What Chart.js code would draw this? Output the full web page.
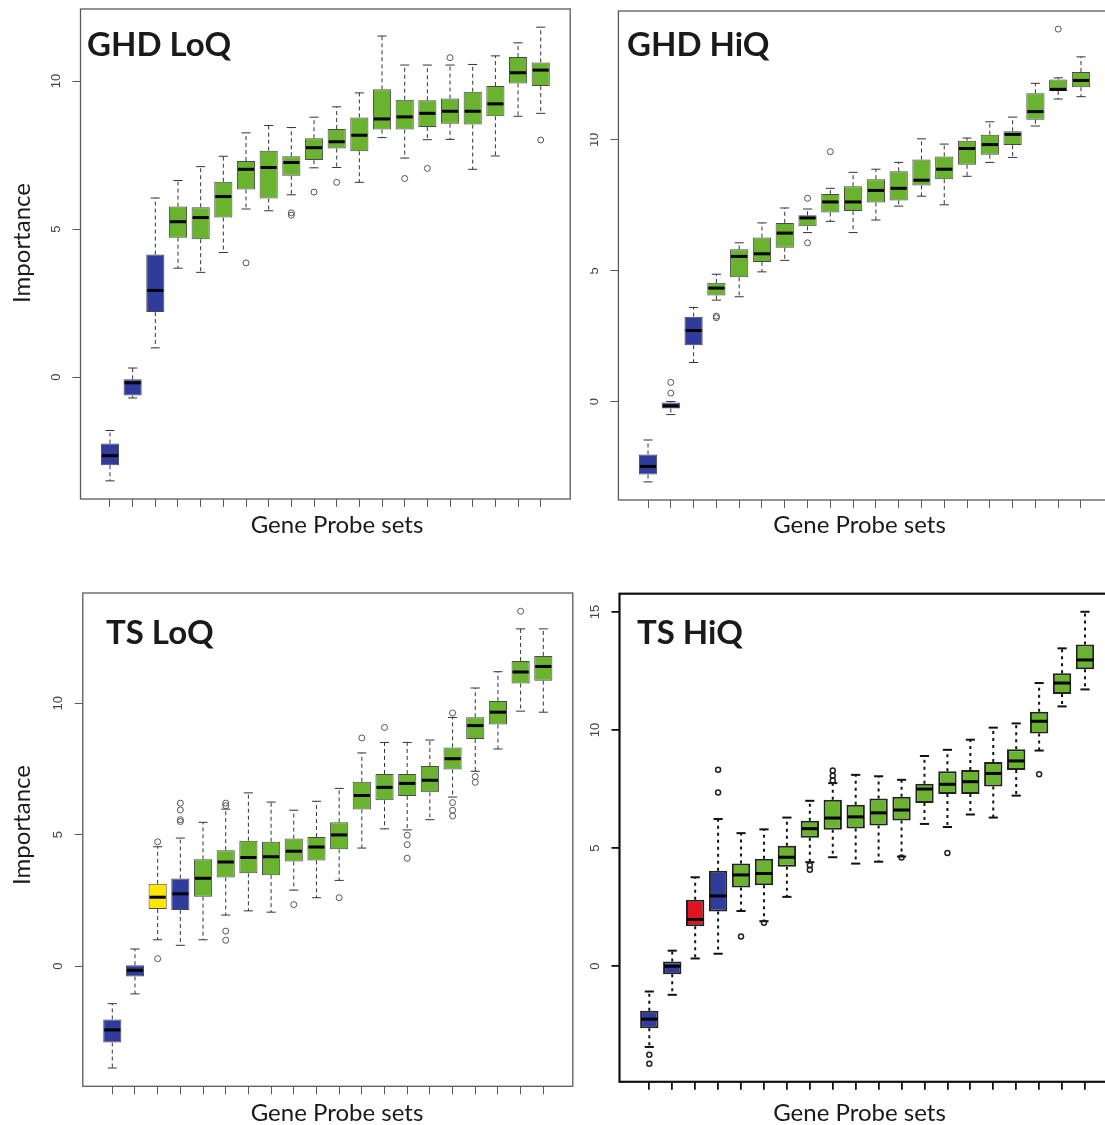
<!DOCTYPE html>
<html>
<head>
<meta charset="utf-8">
<script src="https://cdn.jsdelivr.net/npm/chart.js@4.4.1/dist/chart.umd.min.js"></script>
<style>
  html, body { margin: 0; padding: 0; background: #fff; }
  body { width: 1105px; height: 1125px; overflow: hidden; position: relative; }
  canvas { position: absolute; }
</style>
</head>
<body>
<canvas id="ghd-loq" width="590" height="560" style="left:0px;top:0px"></canvas>
<canvas id="ghd-hiq" width="540" height="560" style="left:590px;top:0px"></canvas>
<canvas id="ts-loq" width="590" height="565" style="left:0px;top:560px"></canvas>
<canvas id="ts-hiq" width="540" height="565" style="left:590px;top:560px"></canvas>
<script>
// Gene probe set positions (20 per panel, no names on the axis)
const probeSets = [1, 2, 3, 4, 5, 6, 7, 8, 9, 10, 11, 12, 13, 14, 15, 16, 17, 18, 19, 20];

// GHD LoQ
const ghdLoqLow    = [-3.50, -0.70, 0.99, 3.68, 3.54, 4.21, 5.68, 5.62, 6.16, 7.07, 7.08, 6.58, 8.09, 7.40, 8.02, 8.03, 7.02, 7.47, 8.81, 8.91];
const ghdLoqQ1     = [-2.97, -0.62, 2.20, 4.71, 4.66, 5.39, 6.34, 6.03, 6.80, 7.33, 7.72, 7.63, 8.36, 8.36, 8.45, 8.56, 8.53, 8.81, 9.92, 9.83];
const ghdLoqMedian = [-2.65, -0.19, 2.93, 5.25, 5.39, 6.10, 7.02, 7.08, 7.25, 7.75, 7.95, 8.17, 8.72, 8.79, 8.91, 8.98, 8.98, 9.23, 10.28, 10.37];
const ghdLoqQ3     = [-2.24, -0.07, 4.14, 5.76, 5.74, 6.60, 7.30, 7.65, 7.46, 8.07, 8.38, 8.77, 9.72, 9.37, 9.35, 9.41, 9.64, 9.83, 10.81, 10.63];
const ghdLoqHigh   = [-1.80, 0.31, 6.05, 6.64, 7.11, 7.46, 8.25, 8.50, 8.43, 8.78, 9.13, 9.60, 11.52, 10.54, 10.54, 10.54, 10.56, 10.85, 11.29, 11.82];
const ghdLoqOutliers = [[7, 3.86], [9, 5.55], [9, 5.47], [10, 6.25], [11, 6.58], [14, 6.71], [15, 7.05], [16, 10.79], [20, 8.01]];
const ghdLoqGroups = ['b', 'b', 'b', 'g', 'g', 'g', 'g', 'g', 'g', 'g', 'g', 'g', 'g', 'g', 'g', 'g', 'g', 'g', 'g', 'g'];

// GHD HiQ
const ghdHiqLow    = [-3.06, -0.49, 1.50, 3.88, 4.01, 4.96, 5.40, 6.46, 6.89, 6.46, 6.94, 7.47, 7.85, 7.52, 8.61, 9.14, 9.33, 10.53, 11.56, 11.65];
const ghdHiqQ1     = [-2.78, -0.26, 2.16, 4.06, 4.75, 5.34, 5.88, 6.70, 7.23, 7.28, 7.61, 7.69, 8.26, 8.50, 9.05, 9.43, 9.80, 10.77, 11.87, 12.01];
const ghdHiqMedian = [-2.47, -0.16, 2.72, 4.34, 5.55, 5.65, 6.44, 7.02, 7.63, 7.63, 8.07, 8.15, 8.46, 8.88, 9.67, 9.82, 10.21, 11.08, 11.93, 12.27];
const ghdHiqQ3     = [-2.01, -0.03, 3.25, 4.54, 5.82, 6.27, 6.83, 7.12, 7.93, 8.23, 8.50, 8.80, 9.25, 9.37, 9.97, 10.20, 10.33, 11.78, 12.31, 12.59];
const ghdHiqHigh   = [-1.46, 0.01, 3.60, 4.87, 6.07, 6.83, 7.40, 7.36, 8.15, 8.76, 8.88, 9.14, 10.04, 9.84, 10.07, 10.69, 10.87, 12.16, 12.37, 13.17];
const ghdHiqOutliers = [[2, 0.74], [2, 0.33], [4, 3.27], [4, 3.21], [8, 7.77], [8, 6.07], [9, 9.55], [19, 14.23]];
const ghdHiqGroups = ['b', 'b', 'b', 'g', 'g', 'g', 'g', 'g', 'g', 'g', 'g', 'g', 'g', 'g', 'g', 'g', 'g', 'g', 'g', 'g'];

// TS LoQ
const tsLoqLow    = [-3.88, -1.06, 1.00, 0.79, 1.00, 1.94, 2.10, 2.05, 2.89, 2.60, 3.26, 4.49, 5.22, 5.18, 5.57, 6.43, 7.41, 8.26, 9.70, 9.66];
const tsLoqQ1     = [-2.91, -0.40, 2.17, 2.13, 2.64, 3.37, 3.53, 3.46, 3.98, 4.02, 4.44, 5.96, 6.31, 6.47, 6.61, 7.48, 8.64, 9.19, 10.75, 10.86];
const tsLoqMedian = [-2.43, -0.16, 2.62, 2.75, 3.34, 3.96, 4.13, 4.16, 4.37, 4.53, 4.99, 6.49, 6.80, 6.95, 7.07, 7.89, 9.15, 9.66, 11.19, 11.40];
const tsLoqQ3     = [-2.03, 0.03, 3.13, 3.33, 4.06, 4.41, 4.77, 4.73, 4.85, 4.91, 5.47, 7.01, 7.31, 7.31, 7.61, 8.32, 9.47, 10.09, 11.61, 11.80];
const tsLoqHigh   = [-1.43, 0.65, 4.54, 4.87, 5.47, 5.97, 6.59, 6.24, 5.93, 6.27, 6.76, 8.11, 8.51, 8.51, 8.60, 9.46, 10.58, 11.20, 12.83, 12.83];
const tsLoqOutliers = [[3, 4.73], [3, 0.28], [4, 6.20], [4, 5.94], [4, 5.57], [4, 5.50], [6, 6.20], [6, 6.10], [6, 1.33], [6, 0.98],
  [9, 2.34], [11, 2.60], [12, 8.68], [13, 9.08], [14, 4.98], [14, 4.62], [14, 4.10], [16, 9.63], [16, 6.22], [16, 5.93], [16, 5.71],
  [17, 7.21], [17, 6.99], [19, 13.50]];
const tsLoqGroups = ['b', 'b', 'y', 'b', 'g', 'g', 'g', 'g', 'g', 'g', 'g', 'g', 'g', 'g', 'g', 'g', 'g', 'g', 'g', 'g'];

// TS HiQ
const tsHiqLow    = [-3.43, -1.22, 0.32, 0.52, 2.33, 1.90, 2.93, 4.40, 4.61, 4.34, 4.42, 4.64, 6.02, 5.89, 6.42, 6.29, 7.22, 9.13, 11.00, 11.72];
const tsHiqQ1     = [-2.64, -0.35, 1.68, 2.31, 3.33, 3.42, 4.21, 5.43, 5.77, 5.83, 5.95, 6.17, 6.91, 7.29, 7.29, 7.61, 8.31, 9.85, 11.53, 12.58];
const tsHiqMedian = [-2.25, -0.01, 1.97, 2.97, 3.86, 3.92, 4.61, 5.82, 6.27, 6.32, 6.49, 6.61, 7.50, 7.70, 7.81, 8.16, 8.69, 10.37, 11.99, 12.97];
const tsHiqQ3     = [-1.90, 0.19, 2.81, 4.04, 4.34, 4.55, 5.10, 6.16, 7.05, 6.83, 7.10, 7.17, 7.72, 8.25, 8.31, 8.64, 9.18, 10.77, 12.40, 13.62];
const tsHiqHigh   = [-1.08, 0.65, 3.76, 6.23, 5.63, 5.79, 6.29, 7.00, 7.75, 8.10, 8.04, 7.89, 8.90, 9.16, 9.59, 10.10, 10.28, 11.99, 13.46, 15.01];
const tsHiqOutliers = [[1, -3.76], [1, -4.14], [4, 8.32], [4, 7.35], [5, 1.25], [6, 1.83], [8, 4.27], [8, 4.08], [9, 8.28], [9, 8.06],
  [9, 7.86], [12, 4.60], [14, 4.79], [18, 8.13]];
const tsHiqGroups = ['b', 'b', 'r', 'b', 'g', 'g', 'g', 'g', 'g', 'g', 'g', 'g', 'g', 'g', 'g', 'g', 'g', 'g', 'g', 'g'];

// Tick labels on the importance axis
const ghdLoqTicks = [0, 5, 10];
const ghdHiqTicks = [0, 5, 10];
const tsLoqTicks = [0, 5, 10];
const tsHiqTicks = [0, 5, 10, 15];

const groupColors = { b: '#2f3c9c', g: '#69b32f', y: '#ffe600', r: '#e3141e' };

// Styles: thin grey (R default) vs the heavier black panel
const thinStyle = { frame: '#5a5a5a', frameWidth: 1.3, box: '#4a4a4a', boxWidth: 1, whisker: '#333', whiskerWidth: 1, dash: [4, 3],
  tick: '#5a5a5a', tickWidth: 1, outlier: '#555', outlierWidth: 1, outlierRadius: 3 };
const heavyStyle = { frame: '#111', frameWidth: 2.2, box: '#222', boxWidth: 2, whisker: '#111', whiskerWidth: 2, dash: [3, 4],
  tick: '#111', tickWidth: 1.8, outlier: '#222', outlierWidth: 1.5, outlierRadius: 2.5 };

const panels = [
  { id: 'ghd-loq', title: 'GHD LoQ', low: ghdLoqLow, q1: ghdLoqQ1, median: ghdLoqMedian, q3: ghdLoqQ3, high: ghdLoqHigh,
    outliers: ghdLoqOutliers, groups: ghdLoqGroups, yTicks: ghdLoqTicks, style: thinStyle,
    area: { left: 80.5, top: 9, right: 19.8, bottom: 61 }, titleAt: [87, 56], xLabelAt: [337, 525], yLabelAt: [22.5, 243] },
  { id: 'ghd-hiq', title: 'GHD HiQ', low: ghdHiqLow, q1: ghdHiqQ1, median: ghdHiqMedian, q3: ghdHiqQ3, high: ghdHiqHigh,
    outliers: ghdHiqOutliers, groups: ghdHiqGroups, yTicks: ghdHiqTicks, style: thinStyle,
    area: { left: 28.4, top: 11, right: 19.4, bottom: 60 }, titleAt: [37, 56], xLabelAt: [269.5, 525], yLabelAt: null },
  { id: 'ts-loq', title: 'TS LoQ', low: tsLoqLow, q1: tsLoqQ1, median: tsLoqMedian, q3: tsLoqQ3, high: tsLoqHigh,
    outliers: tsLoqOutliers, groups: tsLoqGroups, yTicks: tsLoqTicks, style: thinStyle,
    area: { left: 82.8, top: 33, right: 17.2, bottom: 38.7 }, titleAt: [106, 84], xLabelAt: [337, 553], yLabelAt: [22.5, 265] },
  { id: 'ts-hiq', title: 'TS HiQ', low: tsHiqLow, q1: tsHiqQ1, median: tsHiqMedian, q3: tsHiqQ3, high: tsHiqHigh,
    outliers: tsHiqOutliers, groups: tsHiqGroups, yTicks: tsHiqTicks, style: heavyStyle,
    area: { left: 29.5, top: 33.7, right: 15.2, bottom: 43.2 }, titleAt: [47, 84], xLabelAt: [269.5, 553], yLabelAt: null }
];

// Whiskers, staples, medians, frame and panel texts
function makeBoxPlugin(p) {
  const s = p.style;
  const line = (ctx, x1, y1, x2, y2) => { ctx.beginPath(); ctx.moveTo(x1, y1); ctx.lineTo(x2, y2); ctx.stroke(); };
  return {
    id: 'boxExtras',
    beforeDatasetsDraw(chart) {
      const ctx = chart.ctx, y = chart.scales.y;
      const bars = chart.getDatasetMeta(0).data;
      ctx.save();
      ctx.strokeStyle = s.whisker;
      ctx.lineWidth = s.whiskerWidth;
      bars.forEach((bar, i) => {
        const cap = bar.width / 4;
        const yLow = y.getPixelForValue(p.low[i]), yHigh = y.getPixelForValue(p.high[i]);
        const yQ1 = y.getPixelForValue(p.q1[i]), yQ3 = y.getPixelForValue(p.q3[i]);
        ctx.setLineDash(s.dash);
        line(ctx, bar.x, yQ3, bar.x, yHigh);
        line(ctx, bar.x, yQ1, bar.x, yLow);
        ctx.setLineDash([]);
        line(ctx, bar.x - cap, yHigh, bar.x + cap, yHigh);
        line(ctx, bar.x - cap, yLow, bar.x + cap, yLow);
      });
      ctx.restore();
    },
    afterDatasetsDraw(chart) {
      const ctx = chart.ctx, y = chart.scales.y, a = chart.chartArea;
      const bars = chart.getDatasetMeta(0).data;
      ctx.save();
      ctx.strokeStyle = '#000';
      ctx.lineWidth = 3;
      bars.forEach((bar, i) => {
        const ym = y.getPixelForValue(p.median[i]);
        line(ctx, bar.x - bar.width / 2 + 1, ym, bar.x + bar.width / 2 - 1, ym);
      });
      ctx.strokeStyle = s.frame;
      ctx.lineWidth = s.frameWidth;
      ctx.strokeRect(a.left, a.top, a.right - a.left, a.bottom - a.top);
      ctx.restore();
    },
    afterDraw(chart) {
      const ctx = chart.ctx;
      ctx.save();
      ctx.fillStyle = '#1a1a1a';
      ctx.textBaseline = 'alphabetic';
      ctx.textAlign = 'left';
      ctx.font = 'bold 33px Lato';
      ctx.fillText(p.title, p.titleAt[0], p.titleAt[1]);
      ctx.font = '24px Lato';
      ctx.textAlign = 'center';
      ctx.textBaseline = 'middle';
      ctx.fillText('Gene Probe sets', p.xLabelAt[0], p.xLabelAt[1]);
      if (p.yLabelAt) {
        ctx.translate(p.yLabelAt[0], p.yLabelAt[1]);
        ctx.rotate(-Math.PI / 2);
        ctx.fillText('Importance', 0, 0);
      }
      ctx.restore();
    }
  };
}

panels.forEach(p => {
  const s = p.style;
  // R-style limits: data range (with outliers) stretched by 4%
  const allValues = p.low.concat(p.high, p.outliers.map(o => o[1]));
  const lo = Math.min(...allValues), hi = Math.max(...allValues);
  const pad = (hi - lo) * 0.04;

  new Chart(document.getElementById(p.id), {
    type: 'bar',
    data: {
      datasets: [
        {
          type: 'bar',
          data: probeSets.map((n, i) => ({ x: n, y: [p.q1[i], p.q3[i]] })),
          backgroundColor: p.groups.map(g => groupColors[g]),
          borderColor: s.box,
          borderWidth: s.boxWidth,
          borderSkipped: false,
          barPercentage: 0.8,
          categoryPercentage: 1.0,
          order: 2
        },
        {
          type: 'scatter',
          data: p.outliers.map(o => ({ x: o[0], y: o[1] })),
          pointStyle: 'circle',
          pointRadius: s.outlierRadius,
          backgroundColor: 'rgba(255,255,255,0)',
          borderColor: s.outlier,
          borderWidth: s.outlierWidth,
          order: 1
        }
      ]
    },
    options: {
      responsive: false,
      animation: false,
      events: [],
      layout: { padding: { left: 0, top: p.area.top, right: p.area.right, bottom: 0 } },
      plugins: { legend: { display: false }, tooltip: { enabled: false } },
      scales: {
        x: {
          type: 'linear',
          offset: false,
          min: -0.3,
          max: probeSets.length + 1.3,
          afterBuildTicks: scale => { scale.ticks = probeSets.map(v => ({ value: v })); },
          afterFit: scale => {
            scale.height = p.area.bottom;
            scale.paddingLeft = 0; scale.paddingRight = 0;
          },
          ticks: { display: false },
          grid: { drawOnChartArea: false, drawTicks: true, tickLength: 8, offset: false, color: s.tick, lineWidth: s.tickWidth },
          border: { display: false }
        },
        y: {
          type: 'linear',
          min: lo - pad,
          max: hi + pad,
          afterBuildTicks: scale => { scale.ticks = p.yTicks.map(v => ({ value: v })); },
          afterFit: scale => {
            scale.width = p.area.left;
            scale.paddingTop = 0; scale.paddingBottom = 0;
          },
          ticks: {
            minRotation: 90,
            maxRotation: 90,
            crossAlign: 'center',
            padding: 9,
            color: '#444',
            font: { family: 'Liberation Sans', size: 13 },
            callback: v => String(v)
          },
          grid: { drawOnChartArea: false, drawTicks: true, tickLength: 8, color: s.tick, lineWidth: s.tickWidth },
          border: { display: false }
        }
      }
    },
    plugins: [makeBoxPlugin(p)]
  });
});
</script>
</body>
</html>
